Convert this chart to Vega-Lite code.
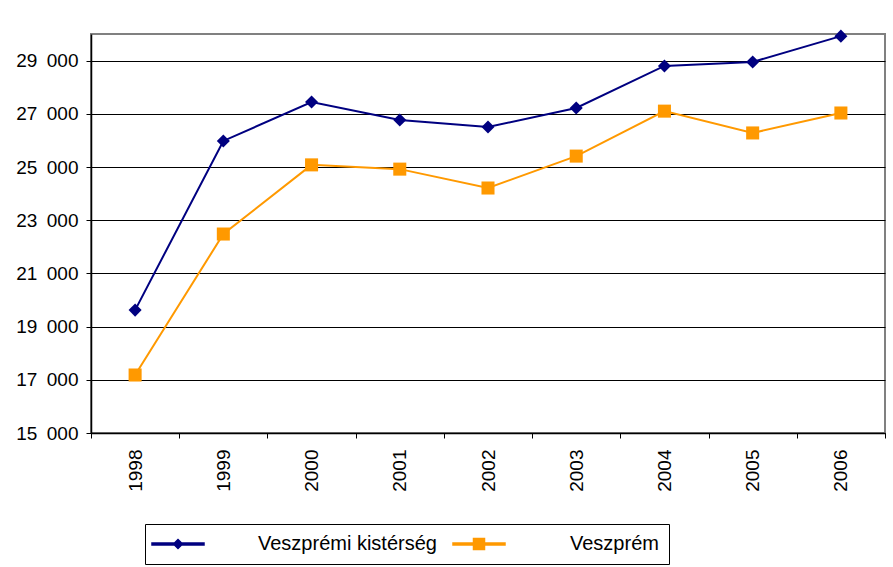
{
  "$schema": "https://vega.github.io/schema/vega-lite/v6.json",
  "width": 794,
  "height": 399,
  "autosize": {"type": "none"},
  "padding": {"left": 91, "top": 34, "right": 8, "bottom": 134},
  "background": "white",
  "config": {
    "font": "Liberation Sans",
    "view": {"stroke": "#808080", "strokeWidth": 2}
  },
  "data": {
    "values": [
      {"year": "1998", "series": "Veszprémi kistérség", "value": 19620},
      {"year": "1999", "series": "Veszprémi kistérség", "value": 25980},
      {"year": "2000", "series": "Veszprémi kistérség", "value": 27440},
      {"year": "2001", "series": "Veszprémi kistérség", "value": 26770},
      {"year": "2002", "series": "Veszprémi kistérség", "value": 26500},
      {"year": "2003", "series": "Veszprémi kistérség", "value": 27220},
      {"year": "2004", "series": "Veszprémi kistérség", "value": 28800},
      {"year": "2005", "series": "Veszprémi kistérség", "value": 28950},
      {"year": "2006", "series": "Veszprémi kistérség", "value": 29920},
      {"year": "1998", "series": "Veszprém", "value": 17180},
      {"year": "1999", "series": "Veszprém", "value": 22480},
      {"year": "2000", "series": "Veszprém", "value": 25080},
      {"year": "2001", "series": "Veszprém", "value": 24920},
      {"year": "2002", "series": "Veszprém", "value": 24210},
      {"year": "2003", "series": "Veszprém", "value": 25410},
      {"year": "2004", "series": "Veszprém", "value": 27100},
      {"year": "2005", "series": "Veszprém", "value": 26280},
      {"year": "2006", "series": "Veszprém", "value": 27030}
    ]
  },
  "encoding": {
    "x": {
      "field": "year",
      "type": "nominal",
      "scale": {"paddingInner": 0, "paddingOuter": 0},
      "axis": {
        "title": null,
        "labelAngle": 270,
        "labelFont": "Liberation Sans",
        "labelFontSize": 19,
        "labelColor": "black",
        "labelPadding": 11,
        "tickBand": "extent",
        "tickColor": "black",
        "tickSize": 5,
        "domainColor": "black",
        "domainWidth": 1.5,
        "grid": false
      }
    },
    "y": {
      "field": "value",
      "type": "quantitative",
      "scale": {"domain": [15000, 30000], "nice": false, "zero": false},
      "axis": {
        "title": null,
        "values": [15000, 17000, 19000, 21000, 23000, 25000, 27000, 29000],
        "labelExpr": "replace(format(datum.value, ','), ',', '\u2002')",
        "labelFont": "Liberation Sans",
        "labelFontSize": 19,
        "labelColor": "black",
        "labelPadding": 8,
        "tickColor": "black",
        "tickSize": 5,
        "domainColor": "black",
        "domainWidth": 1.5,
        "grid": true,
        "gridColor": "black",
        "gridWidth": 1
      }
    },
    "color": {
      "field": "series",
      "type": "nominal",
      "scale": {"domain": ["Veszprémi kistérség", "Veszprém"], "range": ["#000080", "#FF9900"]},
      "legend": {
        "title": null,
        "orient": "none",
        "legendX": 54,
        "legendY": 490,
        "direction": "horizontal",
        "strokeColor": "black",
        "fillColor": "white",
        "padding": 10,
        "labelFont": "Liberation Sans",
        "labelFontSize": 20,
        "labelColor": "black",
        "labelLimit": 400,
        "labelOffset": 70,
        "symbolOffset": 13,
        "columnPadding": 13,
        "symbolSize": 100,
        "symbolType": "M-5.2,-0.2H5.2V0.2H-5.2ZM0,-0.9L0.9,0L0,0.9L-0.9,0Z",
        "encode": {
          "symbols": {
            "update": {
              "shape": {"signal": "datum.value === 'Veszprém' ? 'M-5.2,-0.2H5.2V0.2H-5.2ZM-1.1,-1.1H1.1V1.1H-1.1Z' : 'M-5.2,-0.2H5.2V0.2H-5.2ZM0,-0.9L0.9,0L0,0.9L-0.9,0Z'"},
              "fill": {"signal": "datum.value === 'Veszprém' ? '#FF9900' : '#000080'"},
              "opacity": {"value": 1}
            }
          },
          "labels": {
            "update": {
              "dx": {"signal": "datum.value === 'Veszprém' ? 11 : 0"}
            }
          }
        }
      }
    }
  },
  "layer": [
    {
      "mark": {"type": "line", "strokeWidth": 2}
    },
    {
      "transform": [{"filter": "datum.series === 'Veszprémi kistérség'"}],
      "mark": {"type": "point", "filled": true, "size": 170, "opacity": 1, "shape": "diamond"}
    },
    {
      "transform": [{"filter": "datum.series === 'Veszprém'"}],
      "mark": {"type": "point", "filled": true, "size": 170, "opacity": 1, "shape": "square"}
    }
  ]
}
